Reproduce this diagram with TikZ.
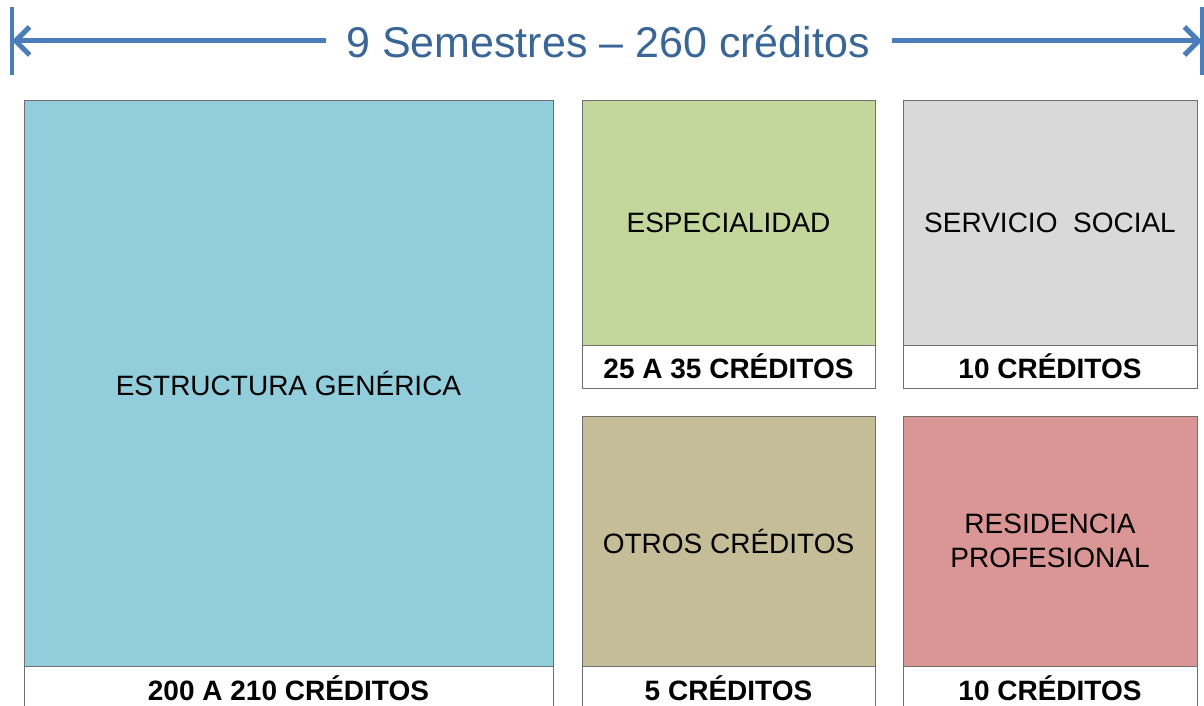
\documentclass[tikz,border=0pt]{standalone}
\usepackage{fontspec}
\setmainfont{Liberation Sans}
\usetikzlibrary{arrows.meta}
\definecolor{arrowblue}{HTML}{4A7EBB}
\definecolor{titleblue}{HTML}{3A6597}
\definecolor{cblue}{HTML}{92CDDC}
\definecolor{cgreen}{HTML}{C3D69B}
\definecolor{cgray}{HTML}{D9D9D9}
\definecolor{ctan}{HTML}{C4BD97}
\definecolor{cred}{HTML}{D99694}
\definecolor{edge}{HTML}{6F6F6F}
\tikzset{
  area/.style={draw=edge, line width=1pt, inner sep=0pt, outer sep=0pt, align=center,
    font=\fontsize{28}{34}\selectfont, text=black},
  credbox/.style={draw=edge, line width=1pt, fill=white, inner sep=0pt, outer sep=0pt,
    font=\fontsize{28}{32}\selectfont\bfseries, text=black},
  span/.style={draw=arrowblue, line width=5pt},
  tick/.style={draw=arrowblue, line width=3.5pt},
}
\begin{document}
\begin{tikzpicture}[x=1pt, y=-1pt]
\clip (0,0) rectangle (1204,706);
\fill[white] (0,0) rectangle (1204,706);
% title
\node[font=\fontsize{43}{48}\selectfont, text=titleblue, inner sep=0pt] (title) at (608,42) {9 Semestres -- 260 créditos};
\coordinate (lt) at (12,41);
\coordinate (rt) at (1202,41);
\coordinate (lts) at (12,7);
\coordinate (lte) at (12,75);
\coordinate (rts) at (1202,7);
\coordinate (rte) at (1202,75);
\draw[tick] (lts) -- (lte);
\draw[tick] (rts) -- (rte);
\draw[span, -{Straight Barb[length=14pt,width=28pt]}] (title.west) ++(-20,-1) -- (lt);
\draw[span, -{Straight Barb[length=14pt,width=28pt]}] (title.east) ++(22,-1) -- (rt);
% boxes
\node[area, fill=cblue, minimum width=529pt, minimum height=565pt] (gen) at (288.5,383.5) {ESTRUCTURA GENÉRICA};
\node[credbox, minimum width=529pt, minimum height=44pt] (genc) at (288.5,688) {200 A 210 CRÉDITOS};
\node[area, fill=cgreen, minimum width=293pt, minimum height=244pt] (esp) at (728.5,223) {ESPECIALIDAD};
\node[credbox, minimum width=293pt, minimum height=43pt] (espc) at (728.5,366.5) {25 A 35 CRÉDITOS};
\node[area, fill=cgray, minimum width=294pt, minimum height=244pt] (ser) at (1050,223) {SERVICIO\ \ SOCIAL};
\node[credbox, minimum width=294pt, minimum height=43pt] (serc) at (1050,366.5) {10 CRÉDITOS};
\node[area, fill=ctan, minimum width=293pt, minimum height=250pt] (otr) at (728.5,541) {OTROS CRÉDITOS};
\node[credbox, minimum width=293pt, minimum height=44pt] (otrc) at (728.5,688) {5 CRÉDITOS};
\node[area, fill=cred, minimum width=294pt, minimum height=250pt] (res) at (1050,541) {RESIDENCIA\\PROFESIONAL};
\node[credbox, minimum width=294pt, minimum height=44pt] (resc) at (1050,688) {10 CRÉDITOS};
\end{tikzpicture}
\end{document}
